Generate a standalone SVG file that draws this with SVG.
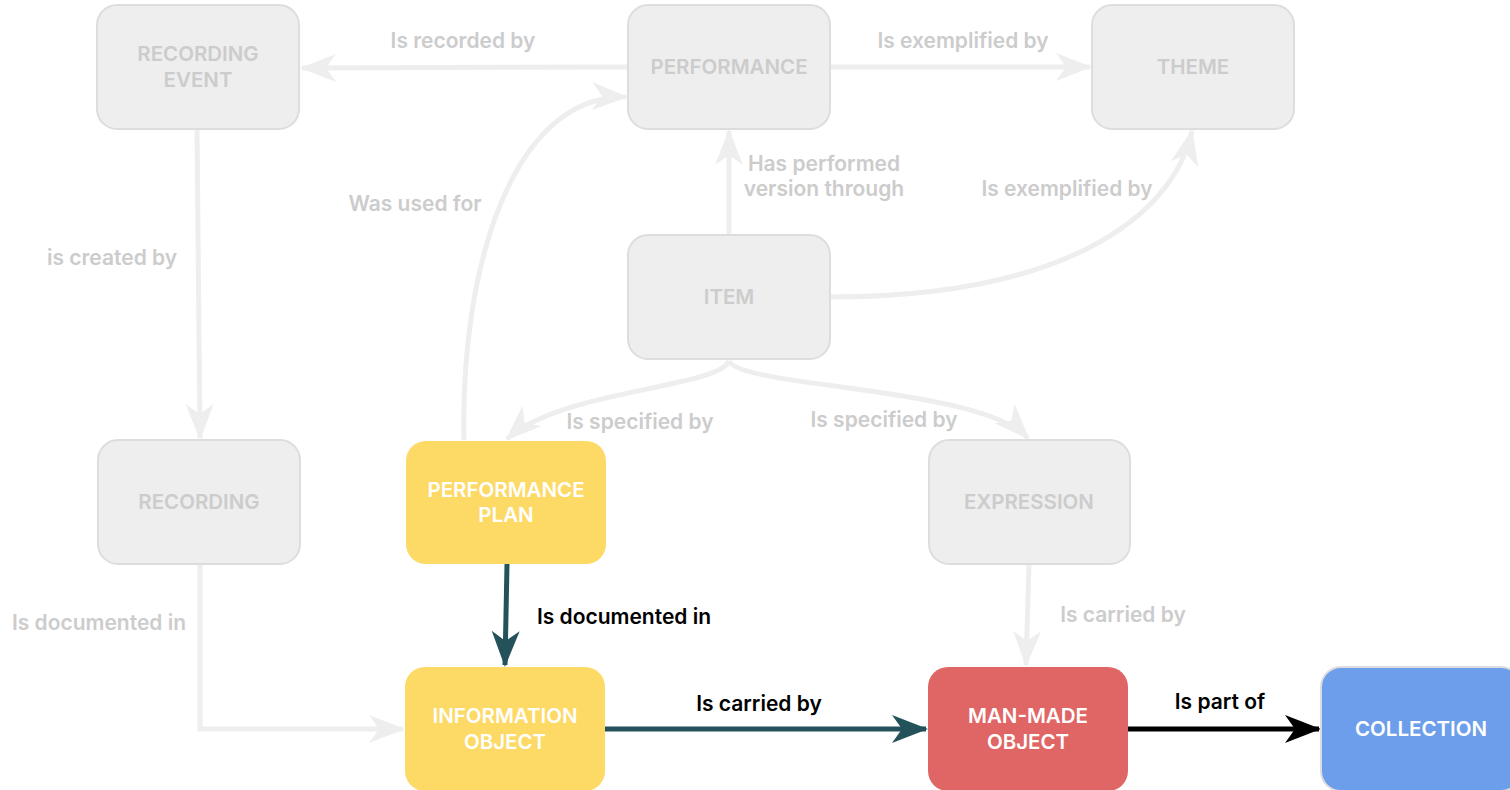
<svg xmlns="http://www.w3.org/2000/svg" width="1510" height="790" viewBox="0 0 1510 790">
<style>
.n rect{stroke-width:2}
.g rect{fill:#eeeeee;stroke:#dddddd}
.y rect{fill:#fdd966;stroke:none}
.r rect{fill:#e06666;stroke:none}
.b rect{fill:#6d9eeb;stroke:#dddddd}
.n text{font-family:Inter,"Noto Sans",sans-serif;font-size:20.5px;font-weight:600;text-anchor:middle}
.g text{fill:#cccccc}
.y text,.r text,.b text{fill:#ffffff}
.e{fill:none;stroke-width:5}
.lt{stroke:#eeeeee}
.dk{stroke:#23525b}
.bk{stroke:#000000}
.lbl{font-family:Inter,"Noto Sans",sans-serif;font-size:21px;font-weight:600;text-anchor:middle}
.lg{fill:#cccccc}
.lb{fill:#000000}
</style>
<defs>
<marker id="al" viewBox="0 0 36 30" refX="34" refY="15" markerWidth="36" markerHeight="30" markerUnits="userSpaceOnUse" orient="auto"><path d="M0,1 L36,15 L0,29 L10,15 Z" fill="#eeeeee"/></marker>
<marker id="ad" viewBox="0 0 36 30" refX="34" refY="15" markerWidth="36" markerHeight="30" markerUnits="userSpaceOnUse" orient="auto"><path d="M0,1 L36,15 L0,29 L10,15 Z" fill="#23525b"/></marker>
<marker id="ab" viewBox="0 0 36 30" refX="34" refY="15" markerWidth="36" markerHeight="30" markerUnits="userSpaceOnUse" orient="auto"><path d="M0,1 L36,15 L0,29 L10,15 Z" fill="#000000"/></marker>
</defs>
<g id="connectors">
<path class="e lt" d="M628,67 L302,68" marker-end="url(#al)"/>
<path class="e lt" d="M830,67 L1090,67" marker-end="url(#al)"/>
<path class="e lt" d="M197,129 L200,438" marker-end="url(#al)"/>
<path class="e lt" d="M729,235 L729,131" marker-end="url(#al)"/>
<path class="e lt" d="M830,297 C1060,297 1172,220 1192,131" marker-end="url(#al)"/>
<path class="e lt" d="M464,440 C460,270 512,94 626,97" marker-end="url(#al)"/>
<path class="e lt" d="M729,361 C718,388 560,390 507,439" marker-end="url(#al)"/>
<path class="e lt" d="M729,361 C742,388 978,386 1028,438" marker-end="url(#al)"/>
<path class="e lt" d="M200,564 L200,729 L403,729" marker-end="url(#al)"/>
<path class="e lt" d="M1029,564 L1026,665" marker-end="url(#al)"/>
<path class="e dk" d="M507,564 L505,665" marker-end="url(#ad)"/>
<path class="e dk" d="M605,729 L926,729" marker-end="url(#ad)"/>
<path class="e bk" d="M1128,729 L1319,729" marker-end="url(#ab)"/>
<text class="lbl lg" x="463" y="48">Is recorded by</text>
<text class="lbl lg" x="963" y="48">Is exemplified by</text>
<text class="lbl lg" x="112" y="265">is created by</text>
<text class="lbl lg" x="824" y="171">Has performed</text>
<text class="lbl lg" x="824" y="196">version through</text>
<text class="lbl lg" x="1067" y="196">Is exemplified by</text>
<text class="lbl lg" x="415" y="211">Was used for</text>
<text class="lbl lg" x="640" y="429">Is specified by</text>
<text class="lbl lg" x="884" y="427">Is specified by</text>
<text class="lbl lg" x="99" y="630">Is documented in</text>
<text class="lbl lg" x="1123" y="622">Is carried by</text>
<text class="lbl lb" x="624" y="624">Is documented in</text>
<text class="lbl lb" x="759" y="711">Is carried by</text>
<text class="lbl lb" x="1220" y="709">Is part of</text>
</g>
<g id="recording-event" class="n g"><rect x="97" y="5" width="202" height="124" rx="20"/><text x="198" y="61">RECORDING</text><text x="198" y="87">EVENT</text></g>
<g id="performance" class="n g"><rect x="628" y="5" width="202" height="124" rx="20"/><text x="729" y="74">PERFORMANCE</text></g>
<g id="theme" class="n g"><rect x="1092" y="5" width="202" height="124" rx="20"/><text x="1193" y="74">THEME</text></g>
<g id="item" class="n g"><rect x="628" y="235" width="202" height="124" rx="20"/><text x="729" y="304">ITEM</text></g>
<g id="recording" class="n g"><rect x="98" y="440" width="202" height="124" rx="20"/><text x="199" y="509">RECORDING</text></g>
<g id="performance-plan" class="n y"><rect x="406" y="441" width="200" height="123" rx="20"/><text x="506" y="497">PERFORMANCE</text><text x="506" y="522">PLAN</text></g>
<g id="expression" class="n g"><rect x="929" y="440" width="201" height="124" rx="20"/><text x="1029" y="509">EXPRESSION</text></g>
<g id="information-object" class="n y"><rect x="405" y="667" width="200" height="124" rx="20"/><text x="505" y="723">INFORMATION</text><text x="505" y="749">OBJECT</text></g>
<g id="man-made-object" class="n r"><rect x="928" y="667" width="200" height="124" rx="20"/><text x="1028" y="723">MAN-MADE</text><text x="1028" y="749">OBJECT</text></g>
<g id="collection" class="n b"><rect x="1321" y="667" width="200" height="124" rx="20"/><text x="1421" y="736">COLLECTION</text></g>
</svg>
